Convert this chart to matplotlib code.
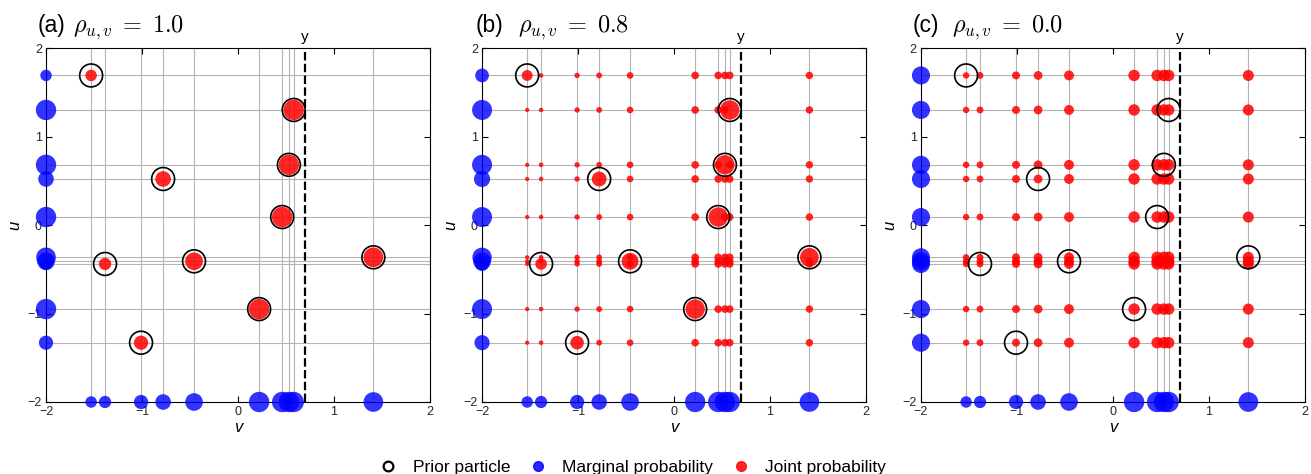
import numpy as np
import matplotlib.pyplot as plt
from matplotlib.lines import Line2D

plt.rcParams['font.family'] = ['Liberation Sans', 'DejaVu Sans']
plt.rcParams['mathtext.fontset'] = 'cm'

# prior particles (v, u) and the observation
v_part = [-1.53, 0.58, 0.53, -0.78, 0.46, -1.385, -0.458, 1.41, 0.22, -1.01]
u_part = [1.69, 1.30, 0.68, 0.52, 0.09, -0.44, -0.41, -0.365, -0.95, -1.33]
y_obs = 0.7

# marginal probability of v (same in every panel)
p_v = [0.016, 0.160, 0.160, 0.055, 0.160, 0.021, 0.090, 0.139, 0.160, 0.038]

# marginal probability of u per correlation
p_u_a = [0.016, 0.160, 0.160, 0.055, 0.160, 0.021, 0.090, 0.139, 0.160, 0.038]
p_u_b = [0.033, 0.148, 0.148, 0.064, 0.148, 0.037, 0.092, 0.131, 0.148, 0.050]
p_u_c = [0.100, 0.100, 0.100, 0.100, 0.100, 0.100, 0.100, 0.100, 0.100, 0.100]

# joint probability: value at the particle itself (diag) and at the other
# u rows of the same v column (off)
joint_diag_a = [0.016, 0.160, 0.160, 0.055, 0.160, 0.021, 0.090, 0.139, 0.160, 0.038]
joint_off_a = [0.0] * 10
joint_diag_b = [0.013, 0.131, 0.131, 0.045, 0.131, 0.017, 0.074, 0.114, 0.131, 0.031]
joint_off_b = [0.0003, 0.0032, 0.0032, 0.0011, 0.0032, 0.0004, 0.0018, 0.0028, 0.0032, 0.0008]
joint_diag_c = [0.0016, 0.016, 0.016, 0.0055, 0.016, 0.0021, 0.009, 0.0139, 0.016, 0.0038]
joint_off_c = [0.0016, 0.016, 0.016, 0.0055, 0.016, 0.0021, 0.009, 0.0139, 0.016, 0.0038]

panel_tags = ['(a)', '(b)', '(c)']
rho_text = ['1.0', '0.8', '0.0']

panels = [
    (p_u_a, joint_diag_a, joint_off_a),
    (p_u_b, joint_diag_b, joint_off_b),
    (p_u_c, joint_diag_c, joint_off_c),
]

S_MAX = 215.0  # pt^2 for the largest dot
P_REF = 0.16
BLUE = '#0000ff'
RED = '#ff0000'


def marker_area(p):
    return S_MAX * np.sqrt(np.asarray(p, dtype=float) / P_REF)


fig = plt.figure(figsize=(13.11, 4.74), dpi=100)
lefts = [0.0351, 0.3677, 0.7025]
tag_x = [-0.023, -0.018, -0.021]
math_x = [0.070, 0.094, 0.081]

v = np.array(v_part)
u = np.array(u_part)
n = len(v)

for k, (p_u, jd, jo) in enumerate(panels):
    ax = fig.add_axes([lefts[k], 0.1519, 0.2929, 0.7468])
    ax.set_xlim(-2, 2)
    ax.set_ylim(-2, 2)

    for vv in v:
        ax.axvline(vv, color='#b4b4b4', lw=0.8, zorder=1)
    for uu in u:
        ax.axhline(uu, color='#b4b4b4', lw=0.8, zorder=1)

    # joint probability on the particle grid
    V, U = np.meshgrid(v, u)
    J = np.where(np.eye(n, dtype=bool), np.array(jd)[None, :], np.array(jo)[None, :])
    mask = J > 0
    ax.scatter(V[mask], U[mask], s=marker_area(J[mask]), color=RED, alpha=0.85,
               linewidths=0, zorder=3)

    # marginals along the axes
    ax.scatter(v, np.full(n, -2.0), s=marker_area(p_v), color=BLUE, alpha=0.8,
               linewidths=0, zorder=3, clip_on=False)
    ax.scatter(np.full(n, -2.0), u, s=marker_area(p_u), color=BLUE, alpha=0.8,
               linewidths=0, zorder=3, clip_on=False)

    ax.axvline(y_obs, color='black', lw=1.6, linestyle=(0, (3.8, 1.5)), zorder=3.5)
    ax.text(y_obs, 2.04, 'y', ha='center', va='bottom', fontsize=11)

    # prior particles
    ax.scatter(v, u, s=272, facecolors='none', edgecolors='black',
               linewidths=1.2, zorder=4, clip_on=False)

    ax.set_xticks([-2, -1, 0, 1, 2])
    ax.set_yticks([-2, -1, 0, 1, 2])
    ax.tick_params(direction='in', top=True, right=True, length=4, width=0.8,
                   labelsize=9, pad=3, colors='black', labelcolor='#262626')
    for sp in ax.spines.values():
        sp.set_linewidth(0.8)
    ax.set_xlabel('v', style='italic', fontsize=12, labelpad=1)
    ax.set_ylabel('u', style='italic', fontsize=12, labelpad=4)

    ax.text(tag_x[k], 1.045, panel_tags[k], transform=ax.transAxes, ha='left',
            va='baseline', fontsize=16.5)
    ax.text(math_x[k], 1.045, r'$\rho_{u,v}\;=\;' + rho_text[k] + '$',
            transform=ax.transAxes, ha='left', va='baseline', fontsize=17.5)

handles = [
    Line2D([], [], marker='o', linestyle='none', markerfacecolor='none',
           markeredgecolor='black', markeredgewidth=1.6, markersize=7),
    Line2D([], [], marker='o', linestyle='none', color=BLUE, alpha=0.85,
           markersize=7),
    Line2D([], [], marker='o', linestyle='none', color=RED, alpha=0.85,
           markersize=7),
]
fig.legend(handles, ['Prior particle', 'Marginal probability', 'Joint probability'],
           loc='lower center', bbox_to_anchor=(0.482, -0.035), ncol=3,
           frameon=False, fontsize=12.5, handlelength=1.2, handletextpad=0.8,
           columnspacing=1.0)

fig.savefig('out.png', dpi=100)
